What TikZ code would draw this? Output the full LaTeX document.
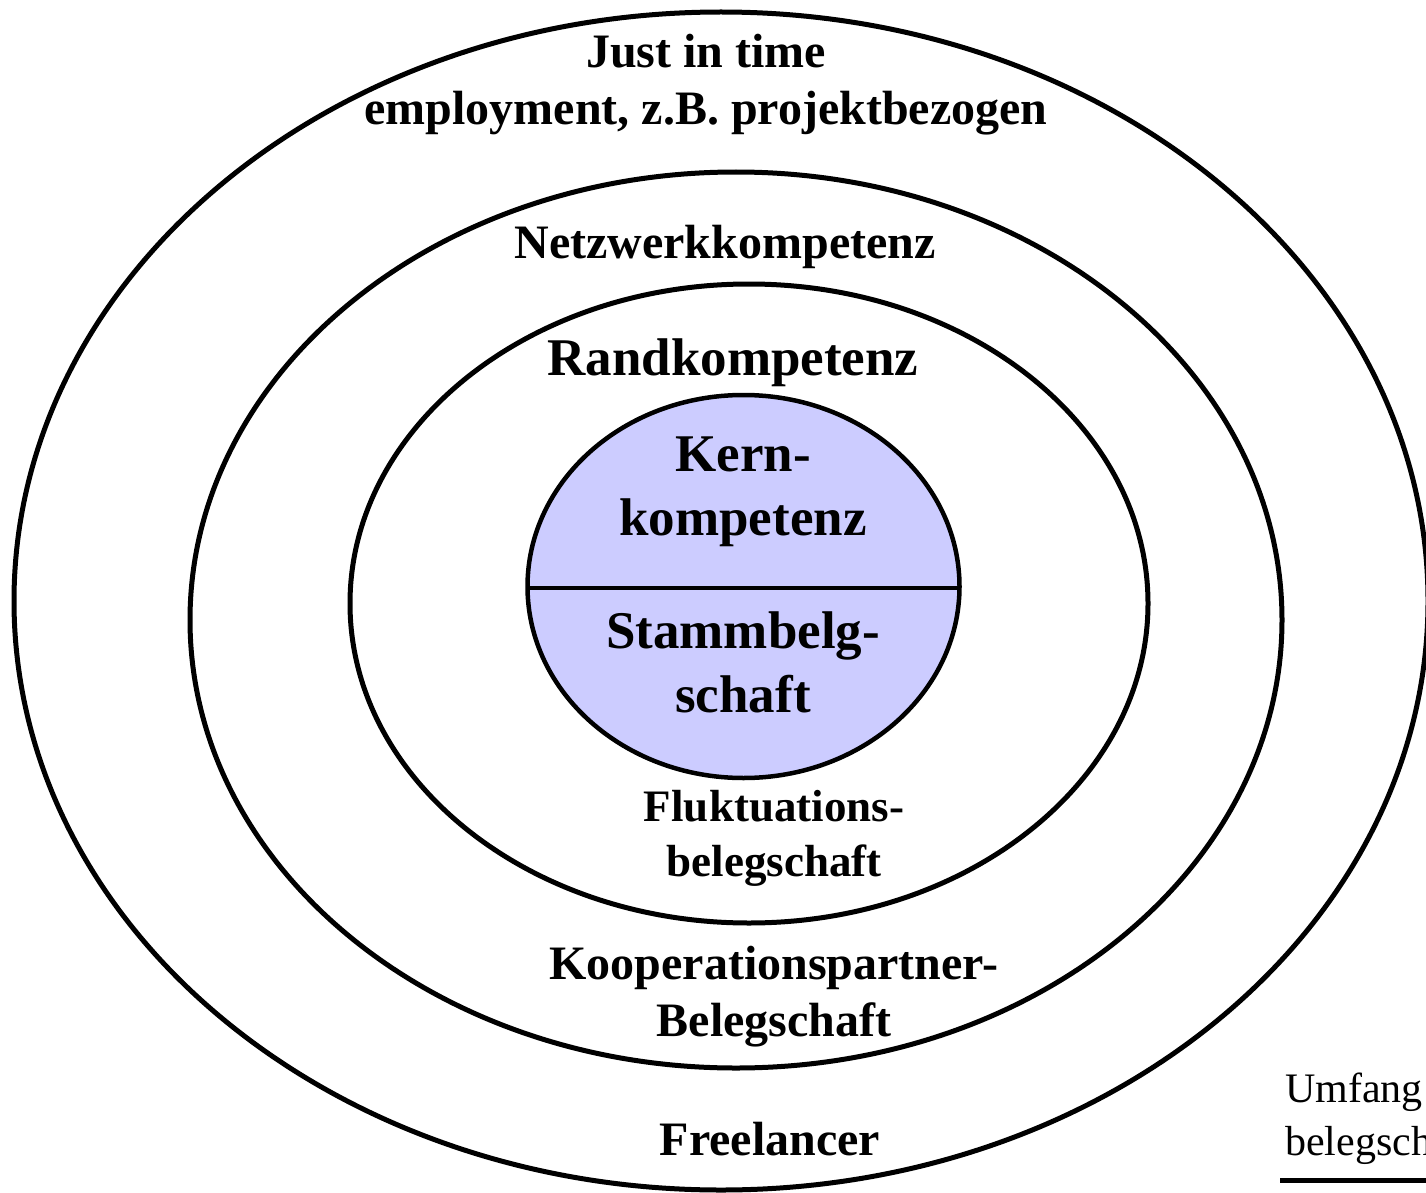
\documentclass[tikz,border=0pt]{standalone}
\usepackage{fontspec}
\setmainfont{Liberation Serif}
\definecolor{corefill}{HTML}{CCCCFF}
\begin{document}
\begin{tikzpicture}[x=1pt,y=-1pt,
  ring/.style={draw=black,line width=5pt},
  lbl/.style={anchor=base,align=center,inner sep=0pt,font=\bfseries\fontsize{48}{57}\selectfont},
  biglbl/.style={lbl,font=\bfseries\fontsize{53}{63.5}\selectfont},
  smalllbl/.style={lbl,font=\bfseries\fontsize{45}{55}\selectfont},
  note/.style={anchor=base west,align=left,inner sep=0pt,font=\fontsize{42}{53}\selectfont}]
\clip (0,0) rectangle (1426,1193);
\fill[white] (0,0) rectangle (1426,1193);

% nested rings
\draw[ring] (721,601) ellipse [x radius=707pt, y radius=589pt];
\draw[ring] (736,620) ellipse [x radius=546pt, y radius=448pt];
\draw[ring] (749,603.5) ellipse [x radius=399pt, y radius=319.5pt];

% core split in two halves
\fill[corefill] (743.5,586.5) ellipse [x radius=216pt, y radius=191.5pt];
\draw[line width=4.5pt] (527.5,588) -- (959.5,588);
\draw[line width=4.5pt] (743.5,586.5) ellipse [x radius=216pt, y radius=191.5pt];

% labels (anchored at the baseline of their last line)
\node[lbl] (jit) at (706,125) {Just in time\\employment, z.B. projektbezogen};
\node[lbl] (netz) at (725,258) {Netzwerkkompetenz};
\node[biglbl] (rand) at (733,375) {Randkompetenz};
\node[biglbl] (kern) at (743,535) {Kern-\\kompetenz};
\node[biglbl] (stamm) at (743,712) {Stammbelg-\\schaft};
\node[smalllbl] (fluk) at (774,876) {Fluktuations-\\belegschaft};
\node[lbl] (koop) at (774,1036) {Kooperationspartner-\\Belegschaft};
\node[lbl] (free) at (770,1155) {Freelancer};

% legend in the lower right corner
\node[note] (umf) at (1285,1155) {Umfang\\belegsch};
\draw[line width=5pt] (1280,1180) -- (1440,1180);
\end{tikzpicture}
\end{document}
